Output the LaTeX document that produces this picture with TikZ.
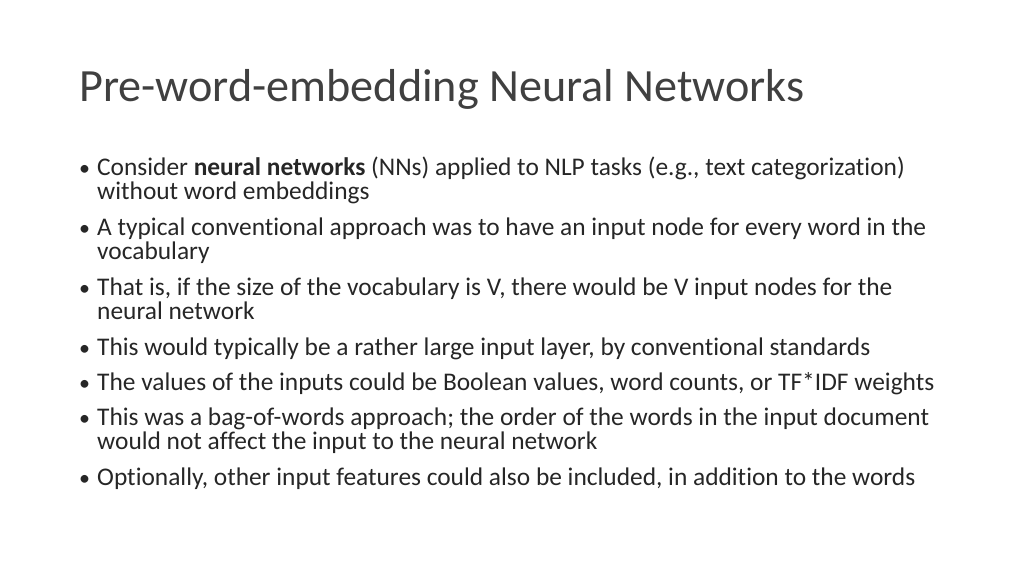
\documentclass[tikz,border=0pt]{standalone}
\usepackage{fontspec}
\setmainfont[Ligatures={NoCommon}]{Carlito}
\begin{document}
\begin{tikzpicture}[x=1pt,y=-1pt,
  ln/.style={anchor=base west,inner sep=0pt,font=\fontsize{25.4}{24}\selectfont,text=black!85},
  bl/.style={anchor=base west,inner sep=0pt,font=\fontsize{22}{24}\selectfont,text=black!85}]
\useasboundingbox (0,0) rectangle (1024,576);
\node[anchor=base west,inner sep=0pt,font=\fontsize{46.2}{50}\selectfont,text=black!75] (title) at (79,101) {Pre-word-embedding Neural Networks};
\foreach \y/\t [count=\i] in {
 175/{Consider \textbf{neural networks} (NNs) applied to NLP tasks (e.g., text categorization)},
 235/{A typical conventional approach was to have an input node for every word in the},
 295/{That is, if the size of the vocabulary is V, there would be V input nodes for the},
 355/{This would typically be a rather large input layer, by conventional standards},
 390/{The values of the inputs could be Boolean values, word counts, or TF*IDF weights},
 425/{This was a bag-of-words approach; the order of the words in the input document},
 485/{Optionally, other input features could also be included, in addition to the words}}
{\node[bl] (b\i) at (79,\y) {\textbullet}; \node[ln] (t\i) at (97,\y) {\t};}
\node[ln] (c1) at (97,199) {without word embeddings};
\node[ln] (c2) at (97,259) {vocabulary};
\node[ln] (c3) at (97,319) {neural network};
\node[ln] (c6) at (97,449) {would not affect the input to the neural network};
\end{tikzpicture}
\end{document}
